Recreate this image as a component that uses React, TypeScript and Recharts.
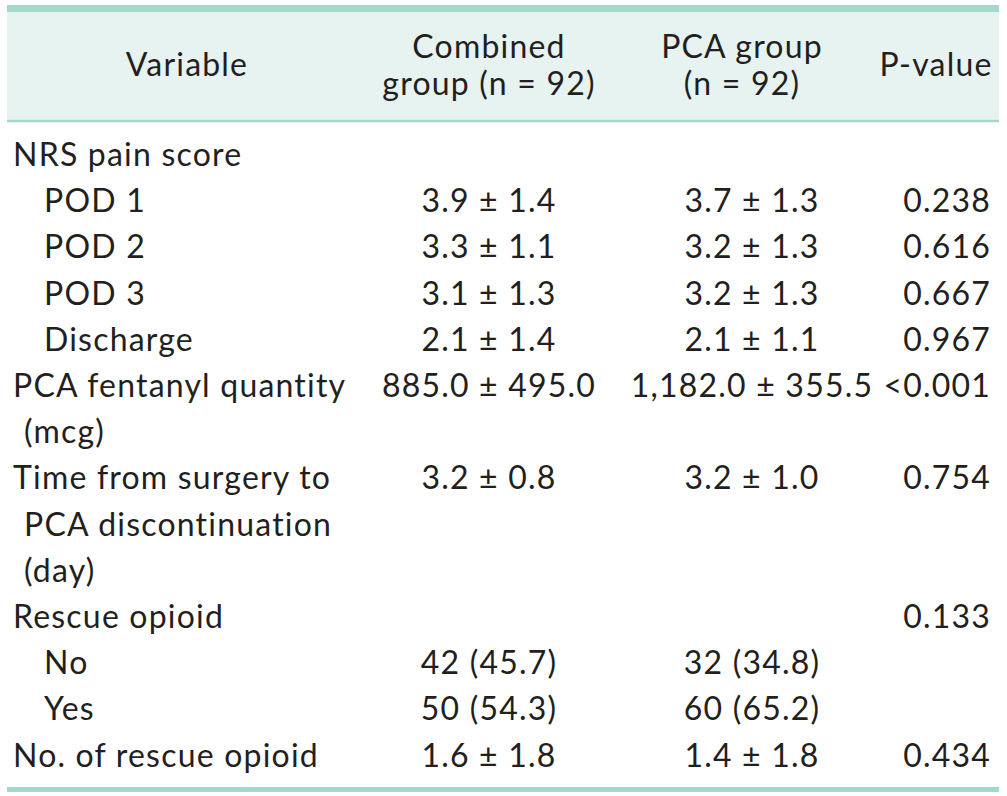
import { ScatterChart, Scatter, XAxis, YAxis, ReferenceLine, ReferenceArea } from "recharts";

// table body, one entry per printed line
const VARIABLE_LINES = [
  "NRS pain score", "POD 1", "POD 2", "POD 3", "Discharge",
  "PCA fentanyl quantity", "(mcg)",
  "Time from surgery to", "PCA discontinuation", "(day)",
  "Rescue opioid", "No", "Yes", "No. of rescue opioid",
];
// 0 = main row, 1 = wrapped continuation, 2 = sub item
const VARIABLE_INDENT = [0, 2, 2, 2, 2, 0, 1, 0, 1, 1, 0, 2, 2, 0];
const COMBINED_VALUES = [
  "", "3.9 ± 1.4", "3.3 ± 1.1", "3.1 ± 1.3", "2.1 ± 1.4",
  "885.0 ± 495.0", "", "3.2 ± 0.8", "", "", "", "42 (45.7)", "50 (54.3)", "1.6 ± 1.8",
];
const PCA_VALUES = [
  "", "3.7 ± 1.3", "3.2 ± 1.3", "3.2 ± 1.3", "2.1 ± 1.1",
  "1,182.0 ± 355.5", "", "3.2 ± 1.0", "", "", "", "32 (34.8)", "60 (65.2)", "1.4 ± 1.8",
];
const P_VALUES = [
  "", "0.238", "0.616", "0.667", "0.967",
  "<0.001", "", "0.754", "", "", "0.133", "", "", "0.434",
];

// header text, split into its printed lines
const HEADER_VARIABLE = ["Variable"];
const HEADER_COMBINED = ["Combined", "group (n = 92)"];
const HEADER_PCA = ["PCA group", "(n = 92)"];
const HEADER_P = ["P-value"];

const W = 1007;
const H = 796;
const FIRST_BASELINE = 166;
const PITCH = 46.2;
const HEADER_PITCH = 37;
const HEADER_MID = 76;

const toLine = (px: number) => (px - FIRST_BASELINE) / PITCH;

const INDENT_X = [13, 24, 44];
const COMBINED_X = 489;
const PCA_X = 752;
const P_X = 991;
const RULE_LEFT = 7;
const RULE_RIGHT = 999;

const FONT = "Lato, 'Open Sans', sans-serif";
const FONT_SIZE = 32;
const TRACKING = 1.2;
const INK = "#231f20";
const TEAL = "#a5d8cc";
const HEAD_BG = "#e6f3f0";

type Cell = { x: number; y: number; text: string };

const bodyCells = (values: string[], x: number | number[]): Cell[] =>
  values
    .map((text, i) => ({ x: Array.isArray(x) ? x[VARIABLE_INDENT[i]] : x, y: i, text }))
    .filter((c) => c.text !== "");

const headerCells = (lines: string[], x: number): Cell[] =>
  lines.map((text, i) => ({
    x,
    y: toLine(HEADER_MID + (i - (lines.length - 1) / 2) * HEADER_PITCH),
    text,
  }));

const textShape = (anchor: "start" | "middle" | "end") => (props: any) => (
  <text
    x={props.cx}
    y={props.cy}
    textAnchor={anchor}
    fontFamily={FONT}
    fontSize={FONT_SIZE}
    letterSpacing={TRACKING}
    fill={INK}
  >
    {props.payload.text}
  </text>
);

const variableData = bodyCells(VARIABLE_LINES, INDENT_X);
const combinedData = bodyCells(COMBINED_VALUES, COMBINED_X);
const pcaData = bodyCells(PCA_VALUES, PCA_X);
const pData = bodyCells(P_VALUES, P_X);

const headerMiddle = [
  ...headerCells(HEADER_VARIABLE, 187),
  ...headerCells(HEADER_COMBINED, COMBINED_X),
  ...headerCells(HEADER_PCA, 742),
  ...headerCells(HEADER_P, 936),
];

export default function App() {
  return (
    <div style={{ position: "absolute", left: 0, top: 0, background: "#fff" }}>
      <ScatterChart width={W} height={H} margin={{ top: 0, right: 0, bottom: 0, left: 0 }}>
        <XAxis type="number" dataKey="x" domain={[0, W]} hide allowDataOverflow />
        <YAxis
          type="number"
          dataKey="y"
          domain={[toLine(0), toLine(H)]}
          reversed
          hide
          allowDataOverflow
        />
        <ReferenceArea
          x1={RULE_LEFT}
          x2={RULE_RIGHT}
          y1={toLine(11)}
          y2={toLine(120)}
          fill={HEAD_BG}
          fillOpacity={1}
          stroke="none"
        />
        <ReferenceLine
          segment={[{ x: RULE_LEFT, y: toLine(8.5) }, { x: RULE_RIGHT, y: toLine(8.5) }]}
          stroke={TEAL}
          strokeWidth={7}
        />
        <ReferenceLine
          segment={[{ x: RULE_LEFT, y: toLine(121) }, { x: RULE_RIGHT, y: toLine(121) }]}
          stroke={TEAL}
          strokeWidth={2.5}
        />
        <ReferenceLine
          segment={[{ x: RULE_LEFT, y: toLine(789.5) }, { x: RULE_RIGHT, y: toLine(789.5) }]}
          stroke={TEAL}
          strokeWidth={5}
        />
        <Scatter data={headerMiddle} shape={textShape("middle")} isAnimationActive={false} />
        <Scatter data={variableData} shape={textShape("start")} isAnimationActive={false} />
        <Scatter data={combinedData} shape={textShape("middle")} isAnimationActive={false} />
        <Scatter data={pcaData} shape={textShape("middle")} isAnimationActive={false} />
        <Scatter data={pData} shape={textShape("end")} isAnimationActive={false} />
      </ScatterChart>
    </div>
  );
}
